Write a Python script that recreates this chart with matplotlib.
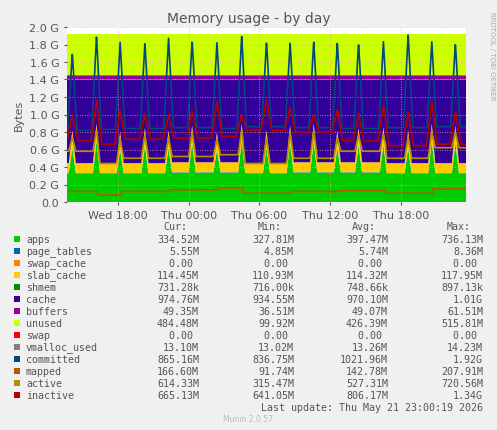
import numpy as np
import matplotlib
matplotlib.use("Agg")
import matplotlib.pyplot as plt

G = 1e9
SPAN = 33.8
# spike times (hours from start) and levels
spike_t = [0.45, 2.5, 4.5, 6.6, 8.6, 10.6, 12.7, 14.8, 16.9, 18.9, 20.9, 22.9, 24.7, 26.8, 28.9, 30.9, 32.9]
apps_spike = [0.62, 0.70, 0.60, 0.65, 0.62, 0.68, 0.60, 0.70, 0.62, 0.68, 0.70, 0.62, 0.65, 0.66, 0.62, 0.70, 0.68]
commit_spike = [1.70, 1.90, 1.83, 1.82, 1.88, 1.85, 1.83, 1.90, 1.84, 1.82, 1.84, 1.83, 1.82, 1.84, 1.92, 1.84, 1.82]
inact_spike = [1.00, 1.17, 1.05, 1.00, 1.00, 1.05, 1.15, 1.00, 1.17, 1.08, 1.00, 1.05, 1.02, 1.10, 1.03, 1.15, 1.03]
# segment base levels (start hour, ...)
seg_t = [0, 2.6, 4.6, 8.7, 12.8, 14.9, 19.0, 23.0, 27.0, 31.0]
apps_base = [0.33, 0.33, 0.33, 0.34, 0.34, 0.33, 0.34, 0.34, 0.33, 0.33]
inactive_base = [0.70, 0.66, 0.72, 0.73, 0.75, 0.82, 0.80, 0.70, 0.64, 0.66]
active_base = [0.58, 0.44, 0.50, 0.52, 0.54, 0.44, 0.50, 0.58, 0.50, 0.62]
mapped_base = [0.12, 0.08, 0.12, 0.14, 0.16, 0.10, 0.12, 0.13, 0.10, 0.15]
committed_base = [0.82, 0.83, 0.84, 0.85, 0.84, 0.86, 0.85, 0.84, 0.85, 0.86]
slab = 0.114
buffers = 0.049
total = 1.92
page_tables = 0.0055

t = np.linspace(0, SPAN, 1600)
def step(vals):
    idx = np.searchsorted(seg_t, t, side="right") - 1
    return np.array(vals)[idx]
def spikes(base, lv, w=0.25):
    out = base.copy()
    for st, v in zip(spike_t, lv):
        f = np.clip(1 - np.abs(t - st) / w, 0, 1)
        out = np.maximum(out, base + (v - base) * f)
    return out

apps = spikes(step(apps_base), apps_spike, 0.3) - page_tables
slab_a = spikes(np.full_like(t, slab), [0.2]*len(spike_t), 0.3)
under = apps + page_tables + slab_a
cache = np.full_like(t, 1.40) - under
unused = total - 1.40 - buffers
inactive = spikes(step(inactive_base), inact_spike, 0.45)
active = spikes(step(active_base), [v + 0.12 for v in apps_spike], 0.3)
committed = spikes(step(committed_base), commit_spike, 0.4)
mapped = step(mapped_base)

fig = plt.figure(figsize=(4.97, 4.31), dpi=100, facecolor="#F0F0F0")
ax = fig.add_axes([67/497, 1-203/431, 399/497, 175/431])
ax.set_facecolor("white")
ax.stackplot(t, apps*G, np.full_like(t, page_tables)*G, slab_a*G, cache*G,
             np.full_like(t, buffers)*G, np.full_like(t, unused)*G,
             colors=["#00CC00", "#0066B3", "#FFCC00", "#330099", "#990099", "#CCFF00"], linewidth=0)
ax.plot(t, committed*G, color="#00487D", lw=1.2)
ax.plot(t, inactive*G, color="#B30000", lw=1.2)
ax.plot(t, active*G, color="#B38F00", lw=1.2)
ax.plot(t, mapped*G, color="#B35A00", lw=1.2)
ax.set_xlim(0, SPAN)
ax.set_ylim(0, 2.0*G)
yt = np.arange(0, 2.01, 0.2)
ax.set_yticks(yt*G)
ax.set_yticklabels([("%.1f G" % v) if v > 0 else "0.0" for v in yt], fontsize=8)
xt = [4.3, 10.3, 16.3, 22.3, 28.3]
ax.set_xticks(xt)
ax.set_xticklabels(["Wed 18:00", "Thu 00:00", "Thu 06:00", "Thu 12:00", "Thu 18:00"], fontsize=8)
ax.grid(True, color="#FF9999", linestyle=(0, (1, 2)), lw=0.6)
for s in ax.spines.values():
    s.set_visible(False)
ax.tick_params(length=2, colors="#555555", labelcolor="#555555")
ax.set_ylabel("Bytes", fontsize=8, color="#555555")
fig.text(0.5, 1-19/431, "Memory usage - by day", ha="center", va="center", fontsize=10, color="#555555")
fig.text(489/497, 0.87, "RRDTOOL / TOBI OETIKER", rotation=270, fontsize=5, color="#AAAAAA", va="center")

rows = [
    ("apps", "#00CC00", "334.52M", "327.81M", "397.47M", "736.13M"),
    ("page_tables", "#0066B3", "5.55M", "4.85M", "5.74M", "8.36M"),
    ("swap_cache", "#FF8000", "0.00 ", "0.00 ", "0.00 ", "0.00 "),
    ("slab_cache", "#FFCC00", "114.45M", "110.93M", "114.32M", "117.95M"),
    ("shmem", "#008F00", "731.28k", "716.00k", "748.66k", "897.13k"),
    ("cache", "#330099", "974.76M", "934.55M", "970.10M", "1.01G"),
    ("buffers", "#990099", "49.35M", "36.51M", "49.07M", "61.51M"),
    ("unused", "#CCFF00", "484.48M", "99.92M", "426.39M", "515.81M"),
    ("swap", "#FF0000", "0.00 ", "0.00 ", "0.00 ", "0.00 "),
    ("vmalloc_used", "#808080", "13.10M", "13.02M", "13.26M", "14.23M"),
    ("committed", "#00487D", "865.16M", "836.75M", "1021.96M", "1.92G"),
    ("mapped", "#B35A00", "166.60M", "91.74M", "142.78M", "207.91M"),
    ("active", "#B38F00", "614.33M", "315.47M", "527.31M", "720.56M"),
    ("inactive", "#B30000", "665.13M", "641.05M", "806.17M", "1.34G"),
]
fs = 7.2
mono = "DejaVu Sans Mono"
col_x = [199, 294, 388, 483]
for x, h in zip(col_x, ["Cur:", "Min:", "Avg:", "Max:"]):
    fig.text((x-12)/497, 1-227/431, h, ha="right", va="center", fontsize=fs, color="#555555", family=mono)
for i, r in enumerate(rows):
    y = 240 + i*12
    fig.patches.append(plt.Rectangle((14/497, 1-(y+3)/431), 6/497, 6/431, transform=fig.transFigure,
                                     facecolor=r[1], edgecolor="none"))
    fig.text(26/497, 1-y/431, r[0], va="center", fontsize=fs, color="#555555", family=mono)
    for x, v in zip(col_x, r[2:]):
        fig.text(x/497, 1-y/431, v, ha="right", va="center", fontsize=fs, color="#555555", family=mono)
fig.text(483/497, 1-408/431, "Last update: Thu May 21 23:00:19 2026", ha="right", va="center",
         fontsize=fs, color="#555555", family=mono)
fig.text(248/497, 1-420/431, "Munin 2.0.57", ha="center", va="center", fontsize=5.5, color="#BBBBBB")
fig.savefig("out.png", dpi=100, facecolor=fig.get_facecolor())
